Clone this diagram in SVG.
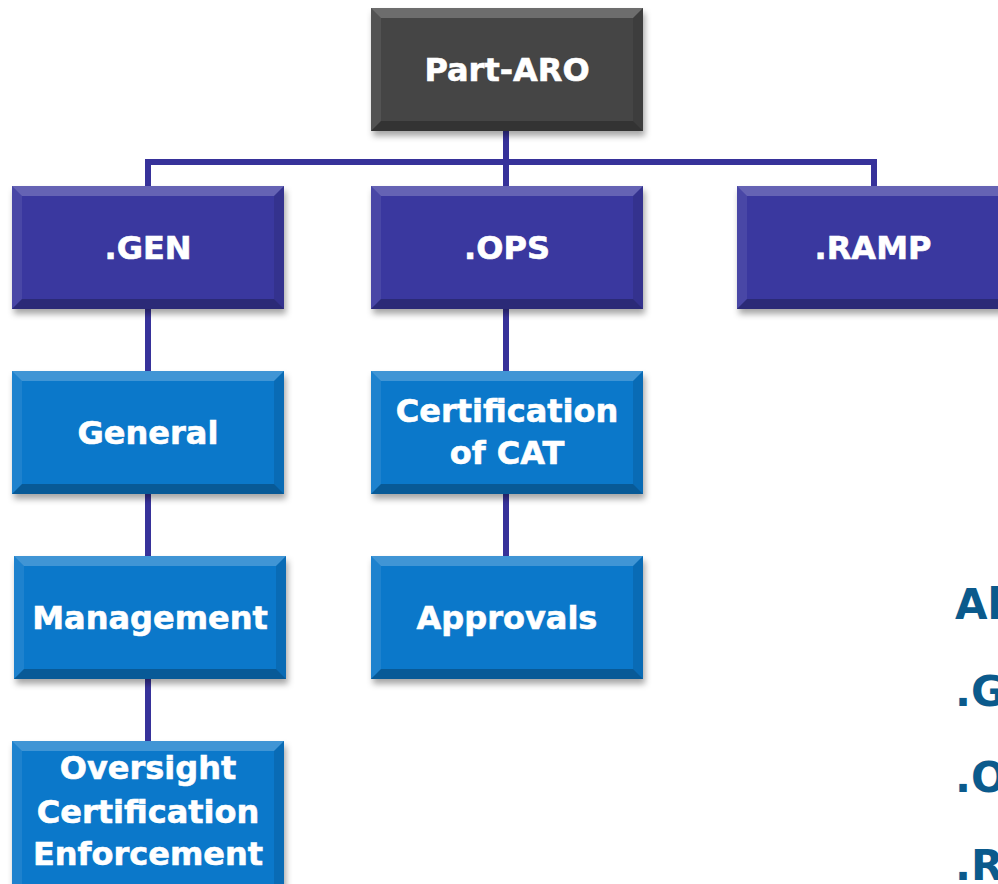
<svg xmlns="http://www.w3.org/2000/svg" xmlns:xlink="http://www.w3.org/1999/xlink" width="998" height="884" viewBox="0 0 998 884">
<style>
.lbl{font-family:"DejaVu Sans","Verdana",sans-serif;font-weight:bold;font-size:32px;fill:#ffffff;stroke:#ffffff;stroke-width:0.6;text-anchor:middle}
.side{font-family:"DejaVu Sans","Verdana",sans-serif;font-weight:bold;font-size:42px;fill:#0b5a8c}
.dark{fill:#454545}
.purple{fill:#3a389f}
.blue{fill:#0b78ca}
.conn{stroke:#37329a;stroke-width:6;fill:none}
</style>
<defs>
<filter id="sh" x="-10%" y="-10%" width="130%" height="140%">
<feGaussianBlur stdDeviation="3"/>
</filter>
<g id="bev">
<polygon points="0,0 272,0 262,10 10,10" fill="#ffffff" fill-opacity="0.22"/>
<polygon points="0,0 10,10 10,113 0,123" fill="#ffffff" fill-opacity="0.08"/>
<polygon points="272,0 272,123 262,113 262,10" fill="#000000" fill-opacity="0.1"/>
<polygon points="0,123 272,123 262,113 10,113" fill="#000000" fill-opacity="0.25"/>
</g>
<g id="bevT">
<polygon points="0,0 272,0 262,10 10,10" fill="#ffffff" fill-opacity="0.22"/>
<polygon points="0,0 10,10 10,170 0,170" fill="#ffffff" fill-opacity="0.08"/>
<polygon points="272,0 272,170 262,170 262,10" fill="#000000" fill-opacity="0.1"/>
</g>
<rect id="shadow" x="2" y="5" width="272" height="123" fill="#000000" fill-opacity="0.35" filter="url(#sh)"/>
</defs>
<g id="connectors">
<polyline class="conn" points="148,186 148,162 874,162 874,186"/>
<line class="conn" x1="506" y1="131" x2="506" y2="186"/>
<line class="conn" x1="148" y1="309" x2="148" y2="371"/>
<line class="conn" x1="148" y1="494" x2="148" y2="556"/>
<line class="conn" x1="148" y1="679" x2="148" y2="741"/>
<line class="conn" x1="506" y1="309" x2="506" y2="371"/>
<line class="conn" x1="506" y1="494" x2="506" y2="556"/>
</g>
<g id="part-aro" transform="translate(371,8)">
<use xlink:href="#shadow"/>
<rect class="dark" width="272" height="123"/>
<use xlink:href="#bev"/>
<text class="lbl" x="136" y="73">Part-ARO</text>
</g>
<g id="gen" transform="translate(12,186)">
<use xlink:href="#shadow"/>
<rect class="purple" width="272" height="123"/>
<use xlink:href="#bev"/>
<text class="lbl" x="136" y="73">.GEN</text>
</g>
<g id="ops" transform="translate(371,186)">
<use xlink:href="#shadow"/>
<rect class="purple" width="272" height="123"/>
<use xlink:href="#bev"/>
<text class="lbl" x="136" y="73">.OPS</text>
</g>
<g id="ramp" transform="translate(737,186)">
<use xlink:href="#shadow"/>
<rect class="purple" width="272" height="123"/>
<use xlink:href="#bev"/>
<text class="lbl" x="136" y="73">.RAMP</text>
</g>
<g id="general" transform="translate(12,371)">
<use xlink:href="#shadow"/>
<rect class="blue" width="272" height="123"/>
<use xlink:href="#bev"/>
<text class="lbl" x="136" y="73">General</text>
</g>
<g id="certification" transform="translate(371,371)">
<use xlink:href="#shadow"/>
<rect class="blue" width="272" height="123"/>
<use xlink:href="#bev"/>
<text class="lbl" x="136" y="51">Certification</text>
<text class="lbl" x="136" y="93">of CAT</text>
</g>
<g id="management" transform="translate(14,556)">
<use xlink:href="#shadow"/>
<rect class="blue" width="272" height="123"/>
<use xlink:href="#bev"/>
<text class="lbl" x="136" y="73">Management</text>
</g>
<g id="approvals" transform="translate(371,556)">
<use xlink:href="#shadow"/>
<rect class="blue" width="272" height="123"/>
<use xlink:href="#bev"/>
<text class="lbl" x="136" y="73">Approvals</text>
</g>
<g id="oversight" transform="translate(12,741)">
<rect x="2" y="5" width="272" height="170" fill="#000000" fill-opacity="0.35" filter="url(#sh)"/>
<rect class="blue" width="272" height="170"/>
<use xlink:href="#bevT"/>
<text class="lbl" x="136" y="38">Oversight</text>
<text class="lbl" x="136" y="82">Certification</text>
<text class="lbl" x="136" y="124">Enforcement</text>
</g>
<g id="side-text">
<text class="side" x="955" y="619">Al</text>
<text class="side" x="955" y="706">.G</text>
<text class="side" x="955" y="792">.O</text>
<text class="side" x="955" y="880">.R</text>
</g>
</svg>
